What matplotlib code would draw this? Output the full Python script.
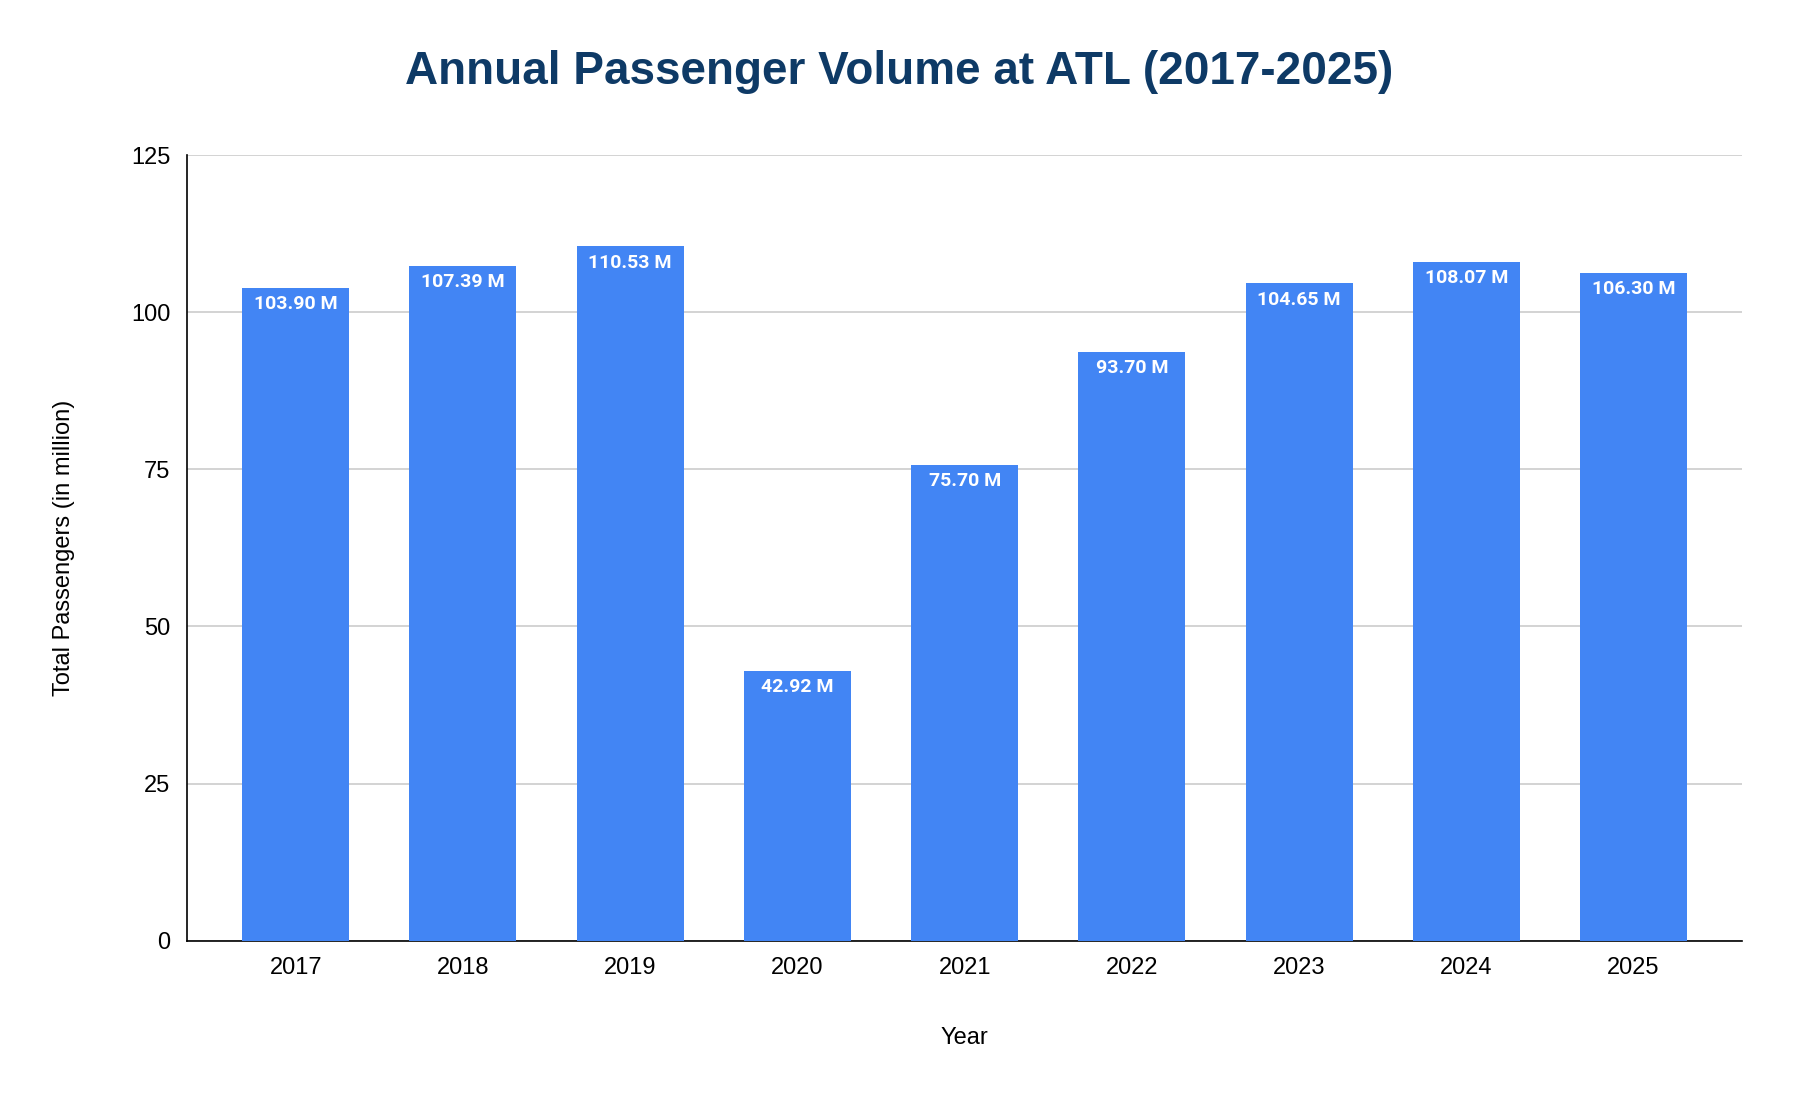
import matplotlib
matplotlib.use("Agg")
import matplotlib.pyplot as plt

years = ["2017","2018","2019","2020","2021","2022","2023","2024","2025"]
passengers = [103.90,107.39,110.53,42.92,75.70,93.70,104.65,108.07,106.30]
yticks = [0,25,50,75,100,125]

plt.rcParams['font.family'] = ['Liberation Sans','DejaVu Sans']
fig = plt.figure(figsize=(17.98,11.08), dpi=100)
ax = fig.add_axes([0.104,0.151,0.865,0.709])
x = range(len(years))
bars = ax.bar(x, passengers, width=0.64, color='#4285F4', zorder=3)
for b, v in zip(bars, passengers):
    ax.text(b.get_x()+b.get_width()/2, v-1.2, f"{v:.2f} M", ha='center', va='top',
            color='white', fontsize=14, fontweight='bold', family=['Roboto','DejaVu Sans'], zorder=4)
ax.set_xticks(list(x))
ax.set_xticklabels(years, fontsize=17)
ax.set_yticks(yticks)
ax.set_yticklabels([str(t) for t in yticks], fontsize=17)
ax.set_ylim(0,125)
ax.set_xlim(-0.65, len(years)-0.35)
ax.grid(axis='y', color='#cccccc', linewidth=1.2, zorder=0)
for s in ['top','right']:
    ax.spines[s].set_visible(False)
ax.spines['left'].set_linewidth(1.2)
ax.spines['bottom'].set_linewidth(1.2)
ax.tick_params(length=0, pad=12)
ax.set_xlabel("Year", fontsize=17, labelpad=34)
ax.set_ylabel("Total Passengers (in million)", fontsize=17, labelpad=40)
fig.suptitle("Annual Passenger Volume at ATL (2017-2025)", fontsize=33, fontweight='bold',
             color='#0E3A66', y=0.955)
fig.savefig("out.png", dpi=100, facecolor='white')
